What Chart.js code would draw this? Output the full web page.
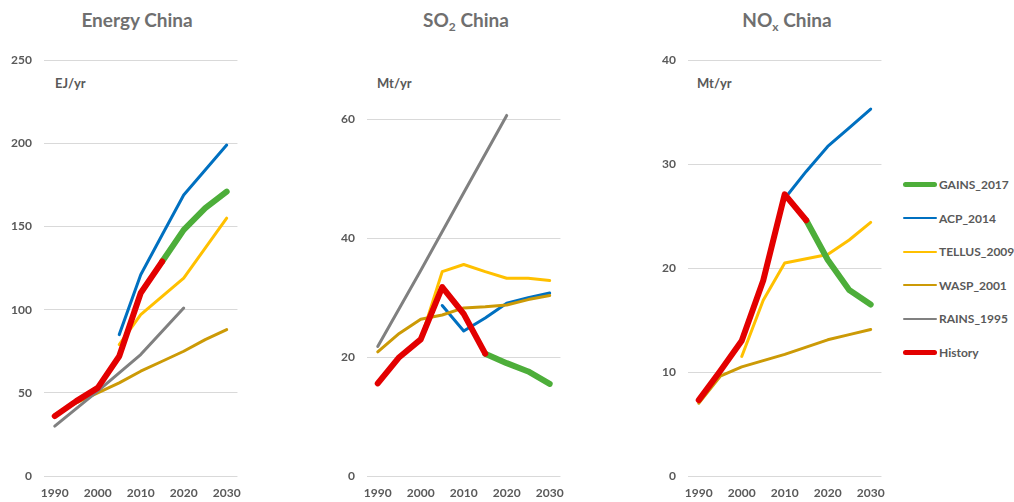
<!DOCTYPE html>
<html>
<head>
<meta charset="utf-8">
<script src="https://cdn.jsdelivr.net/npm/chart.js@4/dist/chart.umd.min.js"></script>
<style>
  html, body { margin: 0; padding: 0; background: #ffffff; }
  body { width: 1014px; height: 502px; position: relative; overflow: hidden;
         font-family: Lato, "Open Sans", sans-serif; color: #595959; }
  .box { position: absolute; top: 41px; width: 251px; height: 461px; }
  .title { position: absolute; top: 8px; font-size: 19px; font-weight: 700; color: #6f6f6f;
           transform: translateX(-50%); white-space: nowrap; }
  .title sub { font-size: 12px; vertical-align: -4px; line-height: 0; }
  .unit { position: absolute; top: 75px; font-size: 13px; font-weight: 700; color: #595959; }
  #legend { position: absolute; left: 903px; top: 176px; }
  .item { height: 33.5px; display: flex; align-items: center; position: relative; top: -8px; }
  .swatch { width: 34px; border-radius: 3px; margin-right: 2px; }
  .item span { font-size: 12px; font-weight: 700; color: #595959; }
</style>
</head>
<body>
<div class="title" style="left:137px">Energy China</div>
<div class="title" style="left:466px">SO<sub>2</sub> China</div>
<div class="title" style="left:787px">NO<sub>x</sub> China</div>
<div class="unit" style="left:55px">EJ/yr</div>
<div class="unit" style="left:377px">Mt/yr</div>
<div class="unit" style="left:697px">Mt/yr</div>

<div class="box" style="left:0px"><canvas id="energy"></canvas></div>
<div class="box" style="left:323px"><canvas id="so2"></canvas></div>
<div class="box" style="left:644px"><canvas id="nox"></canvas></div>
<div id="legend"></div>

<script>
// Years on the category axis (labels shown every ten years)
const years = ['1990', '1995', '2000', '2005', '2010', '2015', '2020', '2025', '2030'];

// Series names in legend order
const seriesNames = ['GAINS_2017', 'ACP_2014', 'TELLUS_2009', 'WASP_2001', 'RAINS_1995', 'History'];

// Energy use, EJ/yr
const energyGAINS   = [null, null, null, null, null, 129, 148, 161, 171];
const energyACP     = [null, null, null, 85, 121, 145, 169, 184, 199];
const energyTELLUS  = [null, null, null, 79, 97, 108, 119, 137, 155];
const energyWASP    = [37, 44, 50, 56, 63, 69, 75, 82, 88];
const energyRAINS   = [30, null, 51, null, 73, null, 101, null, null];
const energyHistory = [36, 45, 53, 72, 110, 129, null, null, null];

// SO2 emissions, Mt/yr
const so2GAINS   = [null, null, null, null, null, 20.6, 19.0, 17.6, 15.5];
const so2ACP     = [null, null, null, 28.7, 24.4, 26.6, 29.1, 30.0, 30.8];
const so2TELLUS  = [null, null, 23.0, 34.4, 35.6, 34.4, 33.3, 33.3, 32.9];
const so2WASP    = [20.9, 24.0, 26.4, 27.1, 28.3, 28.5, 28.8, 29.7, 30.4];
const so2RAINS   = [21.8, null, 34.6, null, 47.7, null, 60.7, null, null];
const so2History = [15.6, 20.0, 23.0, 31.8, 27.3, 20.6, null, null, null];

// NOx emissions, Mt/yr
const noxGAINS   = [null, null, null, null, null, 24.6, 20.8, 17.9, 16.5];
const noxACP     = [null, null, null, null, 26.7, 29.3, 31.7, 33.5, 35.3];
const noxTELLUS  = [null, null, 11.5, 16.9, 20.5, 20.9, 21.3, 22.7, 24.4];
const noxWASP    = [7.0, 9.6, 10.5, 11.1, 11.7, 12.4, 13.1, 13.6, 14.1];
const noxRAINS   = [null, null, null, null, null, null, null, null, null];
const noxHistory = [7.3, 10.1, 13.0, 18.8, 27.1, 24.6, null, null, null];

// Axis ranges
const energyAxis = { max: 250, step: 50 };
const so2Axis    = { max: 70,  step: 20 };
const noxAxis    = { max: 40,  step: 10 };

// Line styles per series
const styles = {
  'GAINS_2017':  { color: '#4DAE3A', width: 6, order: 1 },
  'ACP_2014':    { color: '#0070C0', width: 3, order: 4 },
  'TELLUS_2009': { color: '#FFC000', width: 3, order: 5 },
  'WASP_2001':   { color: '#CC9A06', width: 3, order: 3 },
  'RAINS_1995':  { color: '#808080', width: 3, order: 2 },
  'History':     { color: '#E30000', width: 6, order: 0 }
};

const grey = '#595959';
const tickFont = { family: 'Lato, "Open Sans", sans-serif', size: 12, weight: 'bold' };

function makeDatasets(values) {
  return seriesNames.map((name, i) => ({
    label: name,
    data: values[i],
    borderColor: styles[name].color,
    backgroundColor: styles[name].color,
    borderWidth: styles[name].width,
    order: styles[name].order,
    pointRadius: 0,
    pointHoverRadius: 0,
    tension: 0,
    spanGaps: true,
    borderCapStyle: 'round',
    borderJoinStyle: 'round',
    fill: false
  }));
}

function makeChart(id, values, axis) {
  return new Chart(document.getElementById(id), {
    type: 'line',
    data: { labels: years, datasets: makeDatasets(values) },
    options: {
      responsive: true,
      maintainAspectRatio: false,
      animation: false,
      events: [],
      layout: { padding: { top: 10, right: 7, bottom: 0, left: 0 } },
      plugins: { legend: { display: false }, tooltip: { enabled: false }, title: { display: false } },
      scales: {
        x: {
          type: 'category',
          offset: true,
          border: { display: false },
          grid: { display: false, drawTicks: false },
          ticks: {
            color: grey, font: tickFont, padding: 10, autoSkip: false, maxRotation: 0,
            callback: (v, i) => (i % 2 === 0 ? years[i] : '')
          },
          afterFit: s => { s.height = 26; }
        },
        y: {
          min: 0,
          max: axis.max,
          border: { display: false },
          grid: { color: '#D9D9D9', lineWidth: 1, drawTicks: false },
          ticks: { stepSize: axis.step, color: grey, font: tickFont, padding: 12 },
          // keep only the major steps (the axis may end between two steps)
          afterBuildTicks: s => { s.ticks = s.ticks.filter(t => t.value % axis.step === 0); },
          afterFit: s => { s.width = 44; }
        }
      }
    }
  });
}

makeChart('energy', [energyGAINS, energyACP, energyTELLUS, energyWASP, energyRAINS, energyHistory], energyAxis);
makeChart('so2', [so2GAINS, so2ACP, so2TELLUS, so2WASP, so2RAINS, so2History], so2Axis);
makeChart('nox', [noxGAINS, noxACP, noxTELLUS, noxWASP, noxRAINS, noxHistory], noxAxis);

// Shared legend for the three panels
const legend = document.getElementById('legend');
seriesNames.forEach(name => {
  const row = document.createElement('div');
  row.className = 'item';
  const sw = document.createElement('div');
  sw.className = 'swatch';
  sw.style.height = (styles[name].width - 1) + 'px';
  sw.style.background = styles[name].color;
  const txt = document.createElement('span');
  txt.textContent = name;
  row.appendChild(sw);
  row.appendChild(txt);
  legend.appendChild(row);
});
</script>
</body>
</html>
